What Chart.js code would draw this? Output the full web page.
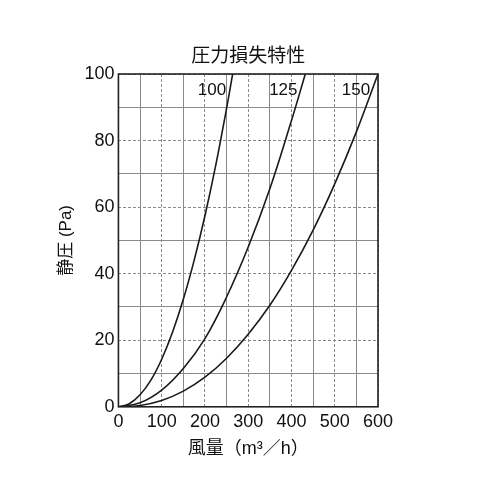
<!DOCTYPE html>
<html>
<head>
<meta charset="utf-8">
<script src="https://cdn.jsdelivr.net/npm/chart.js@4.4.1/dist/chart.umd.min.js"></script>
<style>
  html, body { margin: 0; padding: 0; background: #fff; }
  #wrap { width: 500px; height: 500px; }
</style>
</head>
<body>
<div id="wrap"><canvas id="lossChart"></canvas></div>
<script>
// 風量 (m3/h) and 静圧 (Pa), one pair of arrays per duct size
var flow100 = [0, 25, 50, 75, 100, 125, 150, 175, 200, 225, 250, 264];
var pres100 = [0, 0.9, 3.6, 8.0, 14.3, 22.4, 32.3, 44.0, 57.4, 72.6, 89.7, 100];

var flow125 = [0, 50, 100, 150, 200, 250, 300, 350, 400, 432];
var pres125 = [0, 1.2, 5.0, 11.5, 20.5, 33.0, 48.0, 65.5, 86.0, 100];

var flow150 = [0, 50, 100, 150, 200, 250, 300, 350, 400, 450, 500, 550, 600];
var pres150 = [0, 0.4, 1.9, 4.7, 8.9, 14.6, 21.8, 30.5, 41.0, 53.1, 67.0, 82.6, 100];

var curveNames = ['100', '125', '150'];
// where each size label sits (data units, right end of text)
var labelX = [249, 414, 582];
var labelY = [95, 95, 95];

var xTicks = [0, 100, 200, 300, 400, 500, 600];
var yTicks = [0, 20, 40, 60, 80, 100];

var chartTitle = '圧力損失特性';
var fontFamily = "'Liberation Sans', 'Noto Sans CJK JP', sans-serif";

function toPoints(xs, ys) {
    return xs.map(function (x, i) { return { x: x, y: ys[i] }; });
}

function curve(label, xs, ys) {
    return {
        label: label,
        data: toPoints(xs, ys),
        borderColor: '#1a1a1a',
        borderWidth: 1.6,
        pointRadius: 0,
        fill: false,
        tension: 0.4
    };
}

// frame round the plot, title over the plot centre, size labels by the curves
var framePlugin = {
    id: 'frame',
    afterDatasetsDraw: function (chart) {
        var ctx = chart.ctx;
        var a = chart.chartArea;
        var xs = chart.scales.x, ys = chart.scales.y;
        ctx.save();
        ctx.strokeStyle = '#222';
        ctx.lineWidth = 1.6;
        ctx.strokeRect(a.left, a.top, a.right - a.left, a.bottom - a.top);
        ctx.fillStyle = '#111';
        ctx.textAlign = 'center';
        ctx.textBaseline = 'middle';
        ctx.font = '19px ' + fontFamily;
        ctx.fillText(chartTitle, (a.left + a.right) / 2, a.top - 17);
        ctx.font = '17px ' + fontFamily;
        ctx.textAlign = 'right';
        curveNames.forEach(function (n, i) {
            ctx.fillText(n, xs.getPixelForValue(labelX[i]), ys.getPixelForValue(labelY[i]));
        });
        ctx.restore();
    }
};

function gridDash(ctx, major) {
    if (ctx.tick === undefined) return [];
    return ctx.tick.value % major === 0 ? [3, 2] : [];
}

var ctx1 = document.getElementById('lossChart').getContext('2d');
new Chart(ctx1, {
    type: 'line',
    data: {
        datasets: [
            curve(curveNames[0], flow100, pres100),
            curve(curveNames[1], flow125, pres125),
            curve(curveNames[2], flow150, pres150)
        ]
    },
    options: {
        responsive: true,
        maintainAspectRatio: false,
        animation: false,
        layout: { padding: { left: 56, right: 122, top: 74, bottom: 40 } },
        plugins: {
            legend: { display: false },
            tooltip: { enabled: false },
            title: { display: false }
        },
        scales: {
            x: {
                type: 'linear',
                min: 0,
                max: 600,
                ticks: {
                    stepSize: 50,
                    autoSkip: false,
                    maxRotation: 0,
                    color: '#111',
                    padding: 4,
                    font: { family: fontFamily, size: 18 },
                    callback: function (v) { return xTicks.indexOf(v) >= 0 ? String(v) : ''; }
                },
                grid: { color: '#8a8a8a', lineWidth: 1, drawTicks: false },
                border: { display: false, dash: function (c) { return gridDash(c, 100); } },
                title: {
                    display: true,
                    text: '風量（m³／h）',
                    color: '#111',
                    font: { family: fontFamily, size: 18 },
                    padding: { top: 2, bottom: 0 }
                }
            },
            y: {
                type: 'linear',
                min: 0,
                max: 100,
                ticks: {
                    stepSize: 10,
                    autoSkip: false,
                    color: '#111',
                    padding: 4,
                    font: { family: fontFamily, size: 18 },
                    callback: function (v) { return yTicks.indexOf(v) >= 0 ? String(v) : ''; }
                },
                grid: { color: '#8a8a8a', lineWidth: 1, drawTicks: false },
                border: { display: false, dash: function (c) { return gridDash(c, 20); } },
                title: {
                    display: true,
                    text: '静圧 (Pa)',
                    color: '#111',
                    font: { family: fontFamily, size: 17 },
                    padding: { top: 0, bottom: 4 }
                }
            }
        }
    },
    plugins: [framePlugin]
});
</script>
</body>
</html>
